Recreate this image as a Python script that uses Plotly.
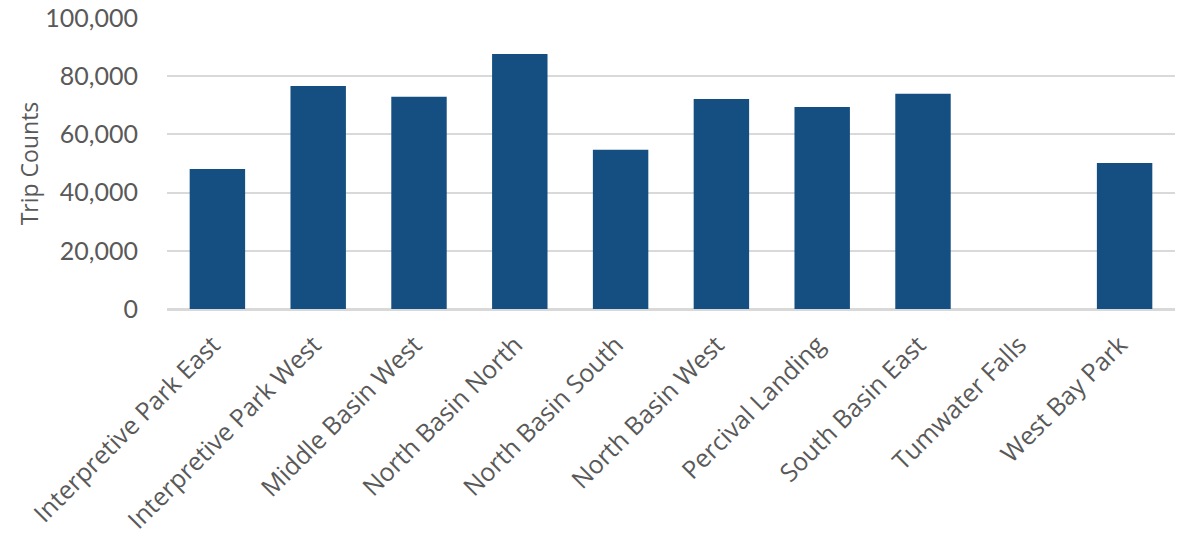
import plotly.graph_objects as go

categories = ["Interpretive Park East", "Interpretive Park West", "Middle Basin West",
              "North Basin North", "North Basin South", "North Basin West",
              "Percival Landing", "South Basin East", "Tumwater Falls", "West Bay Park"]
trip_counts = [48100, 76600, 72900, 87600, 54700, 72200, 69400, 74000, 0, 50200]
y_ticks = [0, 20000, 40000, 60000, 80000, 100000]
y_tick_labels = ["0", "20,000", "40,000", "60,000", "80,000", "100,000"]

# a trailing non-breaking space nudges the rotated labels along their baseline
x_tick_text = [c + "\u00a0" for c in categories]

fig = go.Figure(go.Bar(x=categories, y=trip_counts, marker_color="#154F82",
                       marker_line_width=0))

fig.update_layout(
    width=1185, height=540,
    margin=dict(l=167, r=10, t=18, b=231),
    paper_bgcolor="white", plot_bgcolor="white",
    bargap=0.45,
    showlegend=False,
    font=dict(family="Open Sans", color="#595959"),
)
fig.update_xaxes(tickangle=-45, tickfont=dict(size=25, family="Open Sans", color="#595959"),
                 tickmode="array", tickvals=categories, ticktext=x_tick_text,
                 showgrid=False, showline=True, linecolor="#d9d9d9", linewidth=1.5,
                 ticks="", automargin=False, ticklabelstandoff=5)
fig.update_yaxes(range=[0, 100000], tickvals=y_ticks, ticktext=y_tick_labels,
                 tickfont=dict(size=25, family="Lato", color="#595959"),
                 showgrid=True, gridcolor="#d9d9d9", gridwidth=1.5,
                 zeroline=True, zerolinecolor="#d9d9d9", zerolinewidth=1.5,
                 ticklabelstandoff=28, automargin=False,
                 title=dict(text="Trip Counts", font=dict(size=23, family="Open Sans", color="#595959"),
                            standoff=0))

fig.write_html("out.html", config={"displayModeBar": False},
               post_script="document.body.style.margin='0';")
